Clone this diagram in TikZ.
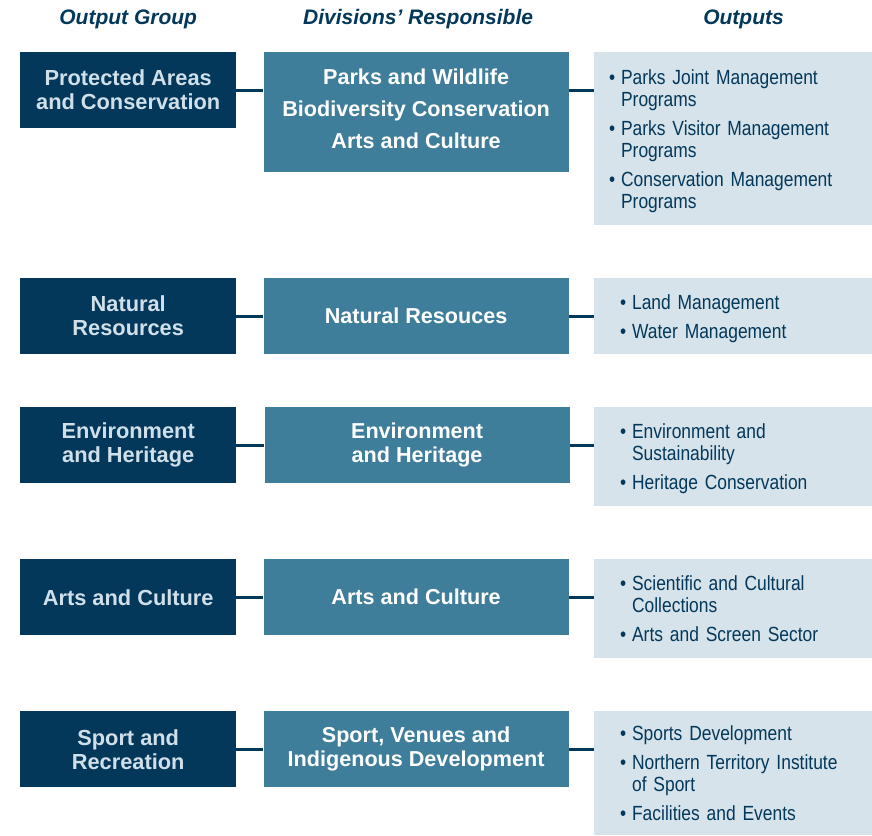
\documentclass[tikz,border=0pt]{standalone}
\usepackage{fontspec}
\setmainfont{Liberation Sans}
\newfontfamily\narrowfont{Liberation Sans}[FakeStretch=0.85]
\usetikzlibrary{positioning}
\definecolor{navy}{HTML}{03385A}
\definecolor{steel}{HTML}{3F7E9B}
\definecolor{pale}{HTML}{D6E3EB}
\definecolor{grptext}{HTML}{D0E0EA}
\newcommand{\itm}{\textbullet}
\newcommand{\topgap}{\noalign{\vskip 6pt}}

\begin{document}
\begin{tikzpicture}[x=1pt, y=1pt,
  hdr/.style={text=navy, font=\bfseries\itshape\fontsize{21}{24}\selectfont},
  grp/.style={fill=navy, text=grptext, font=\bfseries\fontsize{21.8}{24}\selectfont, align=center, minimum width=216pt, minimum height=76pt, inner sep=0pt, anchor=north west},
  div/.style={fill=steel, text=white, font=\bfseries\fontsize{21.6}{24}\selectfont, align=center, minimum width=305pt, minimum height=76pt, inner sep=0pt},
  outbox/.style={fill=pale, text=navy, font=\narrowfont\fontsize{20.5}{22}\selectfont, align=left, inner xsep=26pt, inner ysep=0pt, text width=227pt, minimum height=76pt},
  link/.style={draw=navy, line width=3pt}]
  \useasboundingbox (0,0) rectangle (872,-835);
  % row 1
  \node[grp] (g1) at (20,-52) {Protected Areas\\and Conservation};
  \node[div, minimum height=120pt, font=\bfseries\fontsize{21.6}{32}\selectfont, right=27pt of g1.north east, anchor=north west] (d1) {Parks and Wildlife\\Biodiversity Conservation\\Arts and Culture\\[-24pt]};
  \node[outbox, inner xsep=15pt, text width=249pt, minimum height=173pt, right=25pt of d1.north east, anchor=north west] (o1) {%
    \begin{tabular}{@{}l@{\hspace{6pt}}l@{}}
      \topgap
      \itm & Parks Joint Management\\ & Programs\\[7pt]
      \itm & Parks Visitor Management\\ & Programs\\[7pt]
      \itm & Conservation Management\\ & Programs
    \end{tabular}};
  % row 2
  \node[grp] (g2) at (20,-278) {Natural\\Resources};
  \node[div, right=27pt of g2.north east, anchor=north west] (d2) {Natural Resouces};
  \node[outbox, right=25pt of d2.north east, anchor=north west] (o2) {%
    \begin{tabular}{@{}l@{\hspace{6pt}}l@{}}
      \topgap
      \itm & Land Management\\[7pt]
      \itm & Water Management
    \end{tabular}};
  % row 3
  \node[grp] (g3) at (20,-407) {Environment\\and Heritage};
  \node[div, right=28pt of g3.north east, anchor=north west] (d3) {Environment\\and Heritage};
  \node[outbox, minimum height=99pt, right=24pt of d3.north east, anchor=north west] (o3) {%
    \begin{tabular}{@{}l@{\hspace{6pt}}l@{}}
      \topgap
      \itm & Environment and\\ & Sustainability\\[7pt]
      \itm & Heritage Conservation
    \end{tabular}};
  % row 4
  \node[grp] (g4) at (20,-559) {Arts and Culture};
  \node[div, right=27pt of g4.north east, anchor=north west] (d4) {Arts and Culture};
  \node[outbox, minimum height=99pt, right=25pt of d4.north east, anchor=north west] (o4) {%
    \begin{tabular}{@{}l@{\hspace{6pt}}l@{}}
      \topgap
      \itm & Scientific and Cultural\\ & Collections\\[7pt]
      \itm & Arts and Screen Sector
    \end{tabular}};
  % row 5
  \node[grp] (g5) at (20,-711) {Sport and\\Recreation};
  \node[div, right=27pt of g5.north east, anchor=north west] (d5) {Sport, Venues and\\Indigenous Development};
  \node[outbox, minimum height=124pt, right=25pt of d5.north east, anchor=north west] (o5) {%
    \begin{tabular}{@{}l@{\hspace{6pt}}l@{}}
      \topgap
      \itm & Sports Development\\[7pt]
      \itm & Northern Territory Institute\\ & of Sport\\[7pt]
      \itm & Facilities and Events
    \end{tabular}};
  % headings
  \node[hdr] (h1) at ([yshift=33pt]g1.north) {Output Group};
  \node[hdr] (h2) at ([xshift=2pt, yshift=33pt]d1.north) {Divisions’ Responsible};
  \node[hdr] (h3) at ([xshift=10pt, yshift=33pt]o1.north) {Outputs};
  % connectors
  \draw[link] (g1.east) -- (g1.east -| d1.west);
  \draw[link] (g1.east -| d1.east) -- (g1.east -| o1.west);
  \draw[link] (g2.east) -- (d2.west);
  \draw[link] (d2.east) -- (o2.west |- d2.east);
  \draw[link] (g3.east) -- (d3.west);
  \draw[link] (d3.east) -- (o3.west |- d3.east);
  \draw[link] (g4.east) -- (d4.west);
  \draw[link] (d4.east) -- (o4.west |- d4.east);
  \draw[link] (g5.east) -- (d5.west);
  \draw[link] (d5.east) -- (o5.west |- d5.east);
\end{tikzpicture}
\end{document}
